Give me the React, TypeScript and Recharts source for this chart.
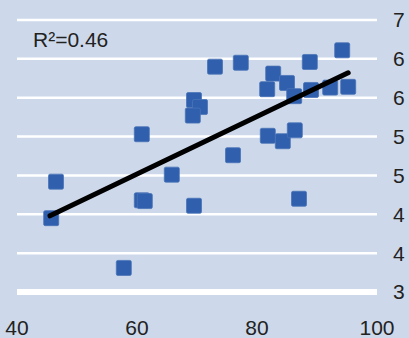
import { ScatterChart, Scatter, XAxis, YAxis, CartesianGrid } from 'recharts';

// scatter points
const xValues = [45.7, 46.5, 57.8, 60.8, 60.8, 61.3, 65.8, 69.5, 76.0, 73.0, 77.3, 69.5, 70.5, 69.3, 81.7, 82.7, 85.0, 86.2, 88.8, 89.0, 92.2, 94.2, 95.2, 81.8, 84.3, 86.3, 87.0];
const yValues = [44.5, 49.2, 38.1, 55.3, 46.8, 46.7, 50.1, 46.1, 52.6, 64.0, 64.5, 59.7, 58.8, 57.7, 61.1, 63.1, 61.9, 60.2, 64.6, 61.0, 61.3, 66.1, 61.4, 55.1, 54.4, 55.8, 47.0];

// fitted trend line end points
const trendX = [45.5, 95.2];
const trendY = [44.8, 63.2];

const xTicks = [40, 60, 80, 100];
const yTicks = [35, 40, 45, 50, 55, 60, 65, 70];

const points = xValues.map((x, i) => ({ x, y: yValues[i] }));
const trend = trendX.map((x, i) => ({ x, y: trendY[i] }));

const font = '"Liberation Sans", Arial, sans-serif';

const SquareDot = (props: any) => {
  const { cx, cy } = props;
  return <rect x={cx - 7.5} y={cy - 7.5} width={15} height={15} rx={1.5} fill="#2f5fad" stroke="#4a74b8" strokeWidth={0.8} />;
};

export default function App() {
  return (
    <div style={{ position: 'absolute', left: 0, top: 0, width: 409, height: 338, background: '#cdd9ea', overflow: 'hidden' }}>
      {/* y labels are clipped at the right edge like in the source image */}
      <div style={{ position: 'absolute', left: 0, top: 0, width: 405, height: 338, overflow: 'hidden' }}>
        <ScatterChart width={409} height={338} margin={{ top: 20, right: 0, bottom: 0, left: 17 }}>
          <CartesianGrid vertical={false} stroke="#ffffff" strokeWidth={2.5} />
          <XAxis
            type="number"
            dataKey="x"
            domain={[40, 100]}
            ticks={xTicks}
            height={46}
            axisLine={{ stroke: '#ffffff', strokeWidth: 6 }}
            tickLine={false}
            tickSize={0}
            tickMargin={28}
            tick={{ fill: '#222', fontSize: 21, fontFamily: font }}
          />
          <YAxis
            type="number"
            dataKey="y"
            orientation="right"
            domain={[35, 70]}
            ticks={yTicks}
            width={32}
            axisLine={false}
            tickLine={false}
            tickSize={0}
            tickMargin={16}
            tick={{ fill: '#222', fontSize: 21, fontFamily: font }}
          />
          <Scatter data={points} shape={<SquareDot />} isAnimationActive={false} />
          <Scatter
            data={trend}
            line={{ stroke: '#000000', strokeWidth: 5, strokeLinecap: 'round' }}
            shape={() => null}
            isAnimationActive={false}
          />
        </ScatterChart>
      </div>
      <svg width={409} height={338} style={{ position: 'absolute', left: 0, top: 0, pointerEvents: 'none' }}>
        <text x={33} y={47} fontSize={21} fontFamily={font} fill="#222">R²=0.46</text>
      </svg>
    </div>
  );
}
